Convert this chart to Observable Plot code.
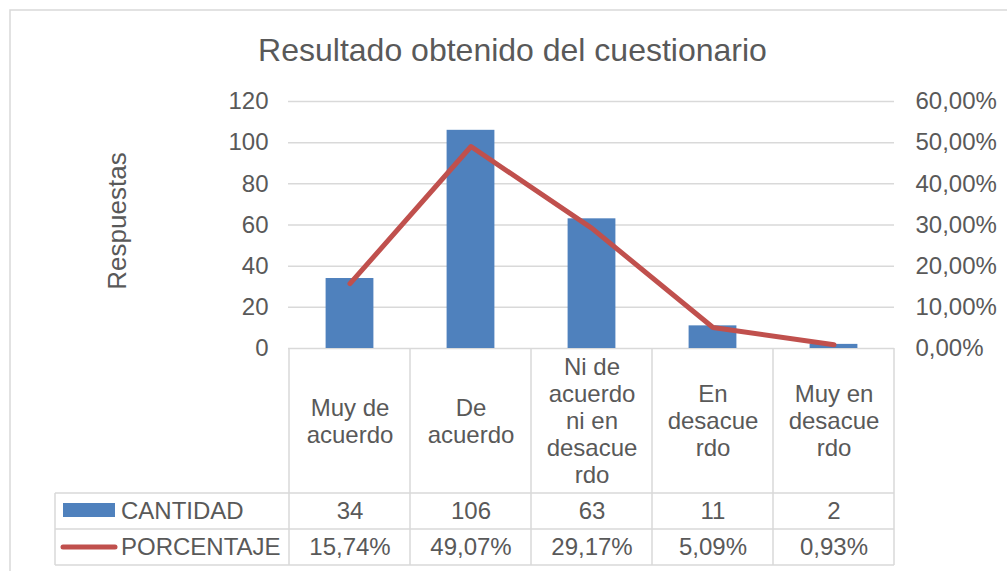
<!DOCTYPE html>
<html>
<head>
<meta charset="utf-8">
<script src="https://cdn.jsdelivr.net/npm/d3@7"></script>
<script src="https://cdn.jsdelivr.net/npm/@observablehq/plot@0.6"></script>
<style>
  html, body { margin: 0; padding: 0; background: #fff; }
</style>
</head>
<body>
<div id="chart"></div>
<script>
const title = "Resultado obtenido del cuestionario";
const yLabel = "Respuestas";
const categories = ["Muy de acuerdo", "De acuerdo", "Ni de acuerdo ni en desacuerdo", "En desacuerdo", "Muy en desacuerdo"];
const categoryLabels = ["Muy de\nacuerdo", "De\nacuerdo", "Ni de\nacuerdo\nni en\ndesacue\nrdo", "En\ndesacue\nrdo", "Muy en\ndesacue\nrdo"];
const cantidad = [34, 106, 63, 11, 2];
const porcentaje = [15.74, 49.07, 29.17, 5.09, 0.93];
const leftTicks = [0, 20, 40, 60, 80, 100, 120];
const rightTicks = [0, 10, 20, 30, 40, 50, 60];
const seriesNames = ["CANTIDAD", "PORCENTAJE"];

const blue = "#4F81BD";
const red = "#C0504D";
const textColor = "#595959";
const gridColor = "#D9D9D9";

const pctFmt = v => v.toFixed(2).replace(".", ",") + "%";
// left scale 0..120 counts; right scale 0..60 % → factor 2
const pctToY = p => p * 2;

const data = categories.map((c, i) => ({
  cat: c, label: categoryLabels[i], cantidad: cantidad[i], pct: porcentaje[i]
}));

const tableLines = (index, scales, values, dims) => {
  const x = scales.x;
  const bw = x.bandwidth();
  const right = dims.width - dims.marginRight;
  const top = dims.height - dims.marginBottom;
  const row1 = top + 145, row2 = row1 + 36, row3 = row2 + 36;
  const g = d3.create("svg:g").attr("fill", "none").attr("stroke", gridColor).attr("stroke-width", 1.5);
  // outer chart border
  g.append("rect").attr("x", 10).attr("y", 10).attr("width", 1100).attr("height", 700);
  // vertical category boundaries
  const xs = categories.map(c => x(c)).concat([x(categories[categories.length - 1]) + bw]);
  xs.forEach(px => g.append("line").attr("x1", px).attr("x2", px).attr("y1", top).attr("y2", row3));
  // horizontal rows
  [row1, row2, row3].forEach(py => g.append("line").attr("x1", 55).attr("x2", right).attr("y1", py).attr("y2", py));
  g.append("line").attr("x1", 55).attr("x2", 55).attr("y1", row1).attr("y2", row3);
  // legend keys
  g.append("rect").attr("x", 63).attr("y", row1 + 10).attr("width", 52).attr("height", 14).attr("fill", blue).attr("stroke", "none");
  g.append("line").attr("x1", 63).attr("x2", 115).attr("y1", row2 + 18).attr("y2", row2 + 18)
    .attr("stroke", red).attr("stroke-width", 5).attr("stroke-linecap", "round");
  [seriesNames[0], seriesNames[1]].forEach((name, i) => {
    g.append("text").attr("x", 121).attr("y", (i === 0 ? row1 : row2) + 18).attr("dy", "0.35em")
      .attr("text-anchor", "start").attr("fill", textColor).attr("stroke", "none")
      .attr("font-size", 24).text(name);
  });
  return g.node();
};

const plot = Plot.plot({
  width: 1007,
  height: 571,
  marginLeft: 288,
  marginRight: 113,
  marginTop: 101,
  marginBottom: 223,
  style: { fontFamily: "'Liberation Sans', Arial, sans-serif", fontSize: "24px", color: textColor, background: "#fff" },
  x: { domain: categories, padding: 0, axis: null },
  y: { domain: [0, 120], axis: null },
  marks: [
    Plot.ruleY(leftTicks, { stroke: gridColor, strokeWidth: 1.5 }),
    Plot.barY(data, { x: "cat", y: "cantidad", fill: blue, insetLeft: 36.6, insetRight: 36.6 }),
    Plot.line(data, { x: "cat", y: d => pctToY(d.pct), stroke: red, strokeWidth: 5, strokeLinecap: "round", strokeLinejoin: "round" }),
    Plot.axisY({ ticks: leftTicks, tickSize: 0, tickPadding: 20, fontSize: 24, fill: textColor, label: null }),
    Plot.axisY({ anchor: "right", ticks: rightTicks.map(pctToY), tickFormat: v => pctFmt(v / 2), tickSize: 0, tickPadding: 21, fontSize: 24, fill: textColor, label: null }),
    Plot.text([yLabel], { frameAnchor: "left", dx: -171, dy: -4, rotate: -90, textAnchor: "middle", lineAnchor: "middle", fontSize: 26, fill: textColor }),
    Plot.text([title], { frameAnchor: "top", dx: -79, dy: -51, lineAnchor: "middle", fontSize: 32, fill: textColor }),
    tableLines,
    Plot.text(data, { x: "cat", text: "label", frameAnchor: "bottom", dy: 72, lineAnchor: "middle", lineHeight: 1.13, fontSize: 24, fill: textColor }),
    Plot.text(data, { x: "cat", text: d => String(d.cantidad), frameAnchor: "bottom", dy: 163, lineAnchor: "middle", fontSize: 24, fill: textColor }),
    Plot.text(data, { x: "cat", text: d => pctFmt(d.pct), frameAnchor: "bottom", dy: 199, lineAnchor: "middle", fontSize: 24, fill: textColor })
  ]
});
document.getElementById("chart").appendChild(plot);
</script>
</body>
</html>
